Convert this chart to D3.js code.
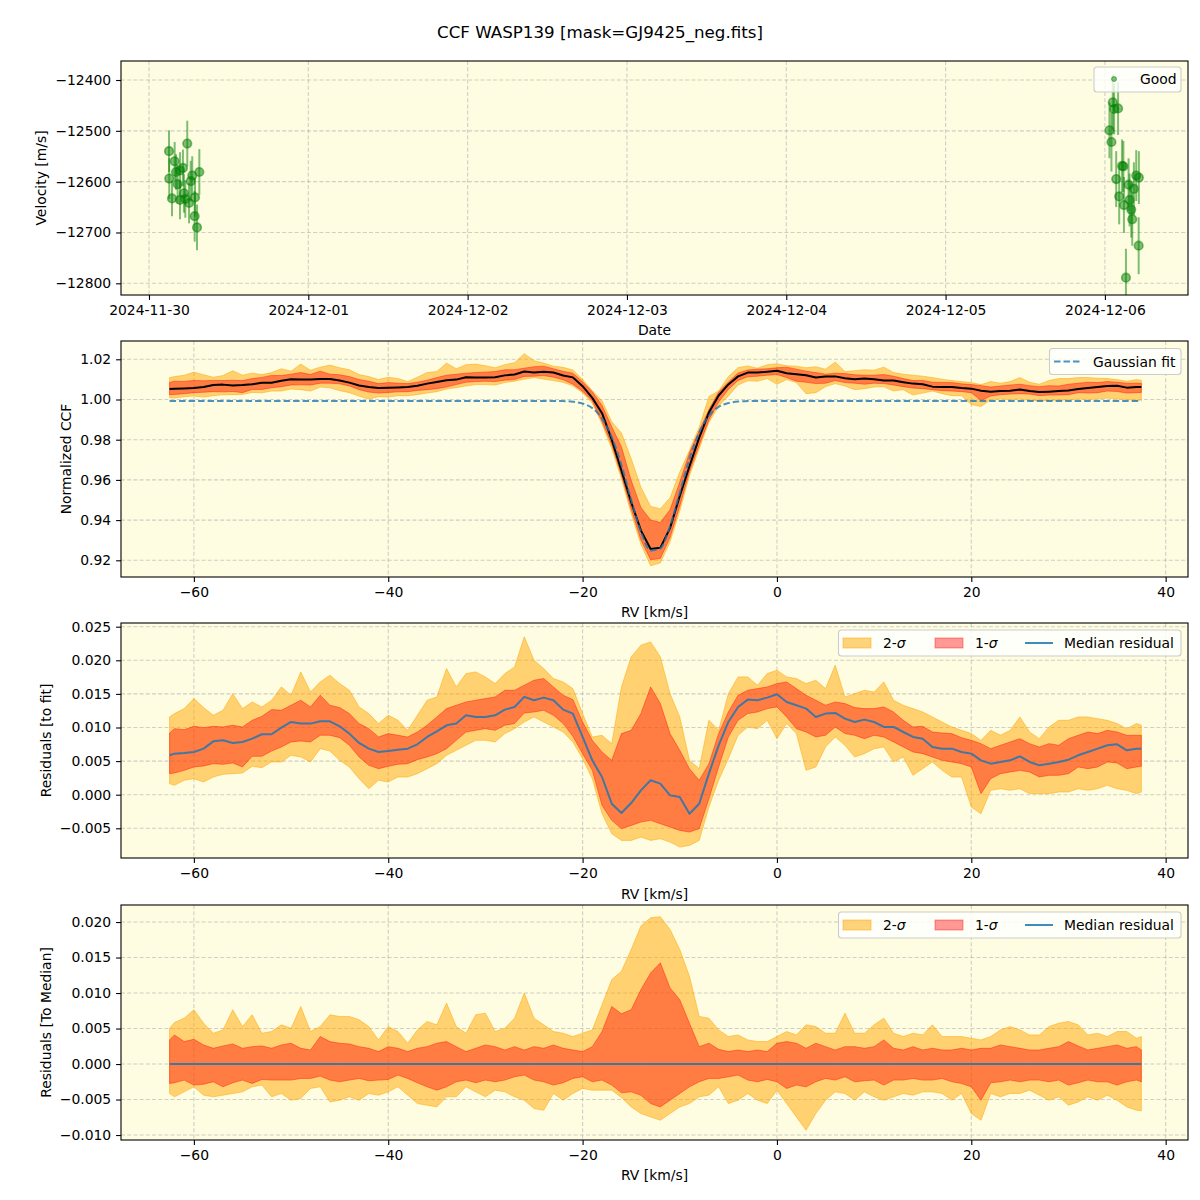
<!DOCTYPE html>
<html>
<head>
<meta charset="utf-8">
<script src="https://cdn.jsdelivr.net/npm/d3@7"></script>
<style>
body { margin: 0; background: #fff; }
</style>
</head>
<body>
<div class="ccf-plot"></div>
<script>
// ---- panel 1: RV time series (good points) ----
const goodTimes = ['2024-11-30T03:01','2024-11-30T03:03','2024-11-30T03:28','2024-11-30T03:52','2024-11-30T04:04',
  '2024-11-30T04:19','2024-11-30T04:40','2024-11-30T04:41','2024-11-30T05:07','2024-11-30T05:16','2024-11-30T05:28',
  '2024-11-30T05:46','2024-11-30T06:02','2024-11-30T06:17','2024-11-30T06:31','2024-11-30T06:56','2024-11-30T06:53',
  '2024-11-30T07:14','2024-11-30T07:35',
  '2024-12-06T01:11','2024-12-06T01:23','2024-12-06T01:59','2024-12-06T00:41','2024-12-06T00:59','2024-12-06T02:35',
  '2024-12-06T02:47','2024-12-06T01:42','2024-12-06T03:34','2024-12-06T04:43','2024-12-06T05:07','2024-12-06T04:22',
  '2024-12-06T02:09','2024-12-06T03:43','2024-12-06T02:52','2024-12-06T03:58','2024-12-06T04:07','2024-12-06T05:05',
  '2024-12-06T03:10'];
const goodVel = [-12540,-12594,-12633,-12560,-12581,-12605,-12636,-12578,-12573,-12623,-12634,-12525,-12642,-12599,
  -12588,-12631,-12668,-12690,-12581,
  -12444,-12457,-12456,-12499,-12522,-12569,-12570,-12595,-12606,-12588,-12592,-12614,-12629,-12636,-12646,-12655,
  -12674,-12726,-12789];
const goodErr = [41,40,35,38,35,38,38,36,36,38,37,45,40,40,38,38,50,45,45,
  55,50,52,55,58,52,50,55,52,50,52,52,55,52,55,55,52,56,57];

// ---- RV grid shared by the CCF panels: -62.5, -62 .. 37, 37.5 km/s ----
const rv = [-62.5, ...d3.range(-62, 38), 37.5];

// ---- panel 2: normalized CCF ----
const ccfMed = [1.0052,1.0054,1.0055,1.0057,1.0062,1.0072,1.0074,1.0070,1.0072,1.0076,
  1.0083,1.0083,1.0093,1.0101,1.0099,1.0099,1.0102,1.0102,1.0095,1.0084,
  1.0070,1.0062,1.0057,1.0058,1.0060,1.0062,1.0068,1.0079,1.0087,1.0096,
  1.0099,1.0111,1.0109,1.0109,1.0111,1.0120,1.0124,1.0139,1.0134,1.0138,
  1.0134,
  1.0119,1.0110,1.0066,1.0008,0.9932,0.9800,0.9646,0.9489,0.9349,0.9256,0.9262,0.9360,0.9520,0.9668,0.9810,0.9935,1.0020,1.0075,1.0115,1.0134,1.0134,
  1.0138,1.0143,1.0131,1.0126,1.0121,1.0109,1.0114,1.0115,1.0106,1.0101,
  1.0105,1.0101,1.0094,1.0094,1.0086,1.0079,1.0076,1.0064,1.0062,1.0062,
  1.0057,1.0054,1.0044,1.0039,1.0042,1.0044,1.0050,1.0042,1.0037,1.0039,
  1.0042,1.0045,1.0052,1.0057,1.0062,1.0067,1.0068,1.0059,1.0062,1.0062];
const ccf1Hi = [1.0085,1.0091,1.0090,1.0095,1.0093,1.0095,1.0094,1.0096,1.0094,1.0104,
  1.0110,1.0120,1.0119,1.0126,1.0134,1.0124,1.0141,1.0126,1.0123,1.0114,
  1.0099,1.0091,1.0079,1.0084,1.0081,1.0079,1.0086,1.0096,1.0109,1.0121,
  1.0126,1.0131,1.0134,1.0136,1.0139,1.0148,1.0148,1.0156,1.0163,1.0166,
  1.0153,
  1.0140,1.0131,1.0088,1.0038,0.9970,0.9864,0.9764,0.9597,0.9463,0.9401,0.9388,0.9452,0.9589,0.9735,0.9844,0.9950,1.0037,1.0087,1.0132,1.0147,1.0151,
  1.0153,1.0158,1.0161,1.0151,1.0141,1.0134,1.0126,1.0131,1.0129,1.0123,
  1.0121,1.0121,1.0124,1.0116,1.0104,1.0094,1.0095,1.0086,1.0085,1.0084,
  1.0078,1.0074,1.0069,1.0062,1.0067,1.0072,1.0076,1.0069,1.0064,1.0069,
  1.0067,1.0076,1.0081,1.0086,1.0084,1.0089,1.0086,1.0081,1.0081,1.0081];
const ccf1Lo = [1.0024,1.0025,1.0029,1.0034,1.0036,1.0039,1.0038,1.0040,1.0034,1.0050,
  1.0050,1.0058,1.0064,1.0072,1.0073,1.0072,1.0081,1.0081,1.0078,1.0067,
  1.0049,1.0037,1.0032,1.0035,1.0038,1.0039,1.0045,1.0049,1.0054,1.0062,
  1.0074,1.0086,1.0089,1.0091,1.0089,1.0096,1.0099,1.0115,1.0116,1.0119,
  1.0111,
  1.0098,1.0076,1.0041,0.9993,0.9890,0.9775,0.9622,0.9455,0.9301,0.9203,0.9209,0.9313,0.9470,0.9640,0.9772,0.9898,0.9987,1.0050,1.0095,1.0113,1.0116,
  1.0121,1.0124,1.0109,1.0091,1.0086,1.0079,1.0081,1.0094,1.0084,1.0081,
  1.0076,1.0081,1.0079,1.0072,1.0064,1.0057,1.0054,1.0049,1.0044,1.0042,
  1.0039,1.0034,0.9995,1.0017,1.0024,1.0027,1.0029,1.0027,1.0019,1.0022,
  1.0022,1.0024,1.0034,1.0032,1.0034,1.0042,1.0040,1.0032,1.0034,1.0035];
const ccf2Hi = [1.0109,1.0114,1.0121,1.0136,1.0123,1.0111,1.0119,1.0143,1.0121,1.0131,
  1.0124,1.0134,1.0153,1.0141,1.0176,1.0146,1.0161,1.0171,1.0158,1.0148,
  1.0124,1.0114,1.0099,1.0111,1.0104,1.0089,1.0111,1.0134,1.0139,1.0181,
  1.0153,1.0173,1.0176,1.0168,1.0158,1.0173,1.0183,1.0228,1.0193,1.0181,
  1.0166,
  1.0160,1.0147,1.0101,1.0043,0.9994,0.9889,0.9833,0.9706,0.9564,0.9468,0.9457,0.9511,0.9639,0.9747,0.9862,1.0015,1.0042,1.0114,1.0159,1.0167,1.0156,
  1.0173,1.0178,1.0168,1.0166,1.0158,1.0163,1.0151,1.0186,1.0139,1.0143,
  1.0148,1.0146,1.0161,1.0134,1.0126,1.0121,1.0116,1.0109,1.0101,1.0094,
  1.0089,1.0084,1.0074,1.0089,1.0081,1.0089,1.0109,1.0086,1.0076,1.0094,
  1.0104,1.0104,1.0109,1.0109,1.0106,1.0104,1.0099,1.0091,1.0099,1.0096];
const ccf2Lo = [1.0009,1.0007,1.0014,1.0017,1.0012,1.0019,1.0023,1.0024,1.0025,1.0035,
  1.0033,1.0042,1.0042,1.0052,1.0049,1.0042,1.0062,1.0058,1.0044,1.0034,
  1.0017,1.0002,1.0014,1.0012,1.0019,1.0019,1.0024,1.0032,1.0039,1.0052,
  1.0059,1.0067,1.0074,1.0074,1.0072,1.0084,1.0091,1.0101,1.0109,1.0101,
  1.0094,
  1.0085,1.0068,1.0034,0.9981,0.9878,0.9755,0.9605,0.9433,0.9279,0.9173,0.9187,0.9291,0.9445,0.9621,0.9755,0.9886,0.9967,1.0018,1.0072,1.0093,1.0091,
  1.0104,1.0076,1.0099,1.0084,1.0029,1.0034,1.0064,1.0079,1.0067,1.0049,
  1.0054,1.0062,1.0064,1.0042,1.0049,1.0022,1.0032,1.0042,1.0029,1.0019,
  1.0019,0.9975,0.9965,1.0000,1.0002,1.0000,1.0002,0.9995,0.9995,0.9995,
  0.9997,0.9997,1.0002,1.0000,1.0002,1.0007,1.0002,1.0000,0.9995,0.9997];
const gaussFit = [0.9993,0.9993,0.9993,0.9993,0.9993,0.9993,0.9993,0.9993,0.9993,0.9993,
  0.9993,0.9993,0.9993,0.9993,0.9993,0.9993,0.9993,0.9993,0.9993,0.9993,
  0.9993,0.9993,0.9993,0.9993,0.9993,0.9993,0.9993,0.9993,0.9993,0.9993,
  0.9993,0.9993,0.9993,0.9993,0.9993,0.9993,0.9993,0.9993,0.9993,0.9993,
  0.9993,
  0.9992,0.9989,0.9980,0.9957,0.9906,0.9813,0.9673,0.9501,0.9342,0.9249,0.9260,0.9370,0.9536,0.9704,0.9836,0.9919,0.9963,0.9982,0.9990,0.9992,0.9993,
  0.9993,0.9993,0.9993,0.9993,0.9993,0.9993,0.9993,0.9993,0.9993,0.9993,
  0.9993,0.9993,0.9993,0.9993,0.9993,0.9993,0.9993,0.9993,0.9993,0.9993,
  0.9993,0.9993,0.9993,0.9993,0.9993,0.9993,0.9993,0.9993,0.9993,0.9993,
  0.9993,0.9993,0.9993,0.9993,0.9993,0.9993,0.9993,0.9993,0.9993,0.9993];

// ---- panel 3: residuals to fit ----
const fitMed = [0.00586,0.00611,0.00621,0.00636,0.00685,0.00794,0.00809,0.0077,0.00785,0.00834,0.00899,0.00899,0.00998,0.01082,
  0.01058,0.01058,0.01092,0.01092,0.01018,0.00909,0.0077,0.00685,0.00636,0.0065,0.0067,0.00685,0.0075,0.00859,0.00943,0.01033,
  0.01058,0.01182,0.01157,0.01157,0.01182,0.01266,0.01306,0.01455,0.01405,0.01445,0.01405,0.01266,0.01207,0.00859,0.00511,0.00263,
  -0.00134,-0.00273,-0.00124,0.00065,0.00214,0.00164,-0.0001,-0.00035,-0.00283,-0.00134,0.00313,0.00735,0.01082,0.01306,0.01415,
  0.01405,0.01445,0.01495,0.0138,0.01331,0.01281,0.01157,0.01207,0.01216,0.01132,0.01082,0.01117,0.01082,0.01008,0.01008,0.00933,
  0.00859,0.00834,0.0071,0.00685,0.00685,0.00636,0.00611,0.00511,0.00462,0.00487,0.00511,0.00571,0.00487,0.00437,0.00462,0.00487,
  0.00521,0.00586,0.00636,0.00685,0.00735,0.0075,0.0066,0.00685,0.00685];
const fit1Hi = [0.00919,0.00983,0.00968,0.01018,0.00998,0.01018,0.01008,0.01033,0.01008,0.01107,0.01167,0.01266,0.01256,0.01331,
  0.01405,0.01306,0.0148,0.01331,0.01296,0.01207,0.01058,0.00983,0.00859,0.00909,0.00884,0.00859,0.00933,0.01033,0.01157,0.01281,
  0.01331,0.0138,0.01405,0.0143,0.01455,0.01554,0.01554,0.01629,0.01703,0.01728,0.01604,0.0148,0.01415,0.01082,0.00809,0.00636,
  0.00511,0.00909,0.00958,0.01207,0.01604,0.01356,0.00909,0.0066,0.00387,0.00214,0.00462,0.00909,0.01231,0.0148,0.01554,
  0.01579,0.01604,0.01653,0.01678,0.01579,0.0148,0.01405,0.01331,0.0138,0.01356,0.01296,0.01281,0.01281,0.01306,0.01231,0.01107,
  0.01008,0.01018,0.00933,0.00919,0.00909,0.00849,0.00809,0.0076,0.00685,0.00735,0.00785,0.00834,0.0076,0.0071,0.0076,0.00735,
  0.00834,0.00884,0.00933,0.00909,0.00958,0.00933,0.00884,0.00884,0.00884];
const fit1Lo = [0.00313,0.00323,0.00362,0.00412,0.00427,0.00462,0.00452,0.00472,0.00412,0.00571,0.00571,0.0065,0.0071,0.00785,
  0.00799,0.00785,0.00884,0.00884,0.00849,0.00735,0.00561,0.00437,0.00387,0.00422,0.00452,0.00462,0.00521,0.00561,0.00611,0.00685,
  0.00809,0.00933,0.00958,0.00983,0.00958,0.01033,0.01058,0.01216,0.01231,0.01256,0.01182,0.01058,0.00869,0.00611,0.00362,-0.00159,
  -0.00382,-0.00506,-0.00457,-0.00407,-0.00382,-0.00432,-0.00482,-0.00531,-0.00556,-0.00506,-0.0006,0.00412,0.00859,0.01107,0.01207,
  0.01231,0.01281,0.01306,0.01157,0.00983,0.00933,0.00859,0.00884,0.01008,0.00909,0.00884,0.00834,0.00884,0.00859,0.00785,0.0071,
  0.00636,0.00611,0.00561,0.00511,0.00487,0.00462,0.00412,0.00015,0.00238,0.00313,0.00338,0.00362,0.00338,0.00263,0.00288,0.00288,
  0.00313,0.00412,0.00387,0.00412,0.00487,0.00472,0.00387,0.00412,0.00422];
const fit2Hi = [0.01157,0.01207,0.01281,0.0143,0.01296,0.01182,0.01256,0.01504,0.01281,0.0138,0.01306,0.01405,0.01604,0.0148,
  0.01827,0.01529,0.01678,0.01778,0.01653,0.01554,0.01306,0.01207,0.01058,0.01182,0.01107,0.00958,0.01182,0.01405,0.01455,0.01877,
  0.01604,0.01802,0.01827,0.01753,0.01653,0.01802,0.01902,0.02349,0.02001,0.01877,0.01728,0.01678,0.01579,0.01207,0.00859,0.00884,
  0.0076,0.01604,0.02051,0.02224,0.02274,0.02051,0.01504,0.01157,0.00511,0.00387,0.01107,0.00958,0.01504,0.01753,0.01753,
  0.01629,0.01802,0.01852,0.01753,0.01728,0.01653,0.01703,0.01579,0.01927,0.01455,0.01504,0.01554,0.01529,0.01678,0.01405,0.01331,
  0.01281,0.01231,0.01157,0.01082,0.01008,0.00958,0.00909,0.00809,0.00958,0.00884,0.00958,0.01157,0.00933,0.00834,0.01008,0.01107,
  0.01107,0.01157,0.01157,0.01132,0.01107,0.01058,0.00983,0.01058,0.01033];
const fit2Lo = [0.00164,0.00139,0.00214,0.00238,0.00189,0.00263,0.00303,0.00313,0.00323,0.00422,0.00402,0.00487,0.00487,0.00586,
  0.00561,0.00487,0.00685,0.0065,0.00511,0.00412,0.00238,0.00089,0.00214,0.00189,0.00263,0.00263,0.00313,0.00387,0.00462,0.00586,
  0.0066,0.00735,0.00809,0.00809,0.00785,0.00909,0.00983,0.01082,0.01157,0.01082,0.01008,0.00933,0.00785,0.00536,0.00238,-0.00283,
  -0.00581,-0.0068,-0.0068,-0.00631,-0.0068,-0.00655,-0.00705,-0.0078,-0.00755,-0.0068,-0.00184,0.00214,0.00536,0.00884,0.01008,
  0.00983,0.01107,0.00834,0.01058,0.00909,0.00362,0.00412,0.0071,0.00859,0.00735,0.00561,0.00611,0.00685,0.0071,0.00487,0.00561,
  0.00288,0.00387,0.00487,0.00362,0.00263,0.00263,-0.00184,-0.00283,0.00065,0.00089,0.00065,0.00089,0.00015,0.00015,0.00015,0.0004,
  0.0004,0.00089,0.00065,0.00089,0.00139,0.00089,0.00065,0.00015,0.0004];

// ---- panel 4: residuals to median ----
const medLine = [0,0,0,0,0,0,0,0,0,0,0,0,0,0,0,0,0,0,0,0,0,0,0,0,0,0,0,0,0,0,0,0,0,0,0,0,0,0,0,0,0,0,0,0,0,0,0,0,0,0,0,
  0,0,0,0,0,0,0,0,0,0,0,0,0,0,0,0,0,0,0,0,0,0,0,0,0,0,0,0,0,0,0,0,0,0,0,0,0,0,0,0,0,0,0,0,0,0,0,0,0,0,0];
const med1Hi = [0.0034,0.0041,0.00316,0.00349,0.00269,0.00222,0.00255,0.00283,0.00222,0.00245,0.00255,0.00222,0.00269,0.00293,
  0.00222,0.00198,0.00387,0.00316,0.00293,0.00283,0.00245,0.00222,0.00175,0.00245,0.00222,0.00175,0.00222,0.00245,0.00293,0.00316,
  0.00245,0.00175,0.00222,0.00269,0.00245,0.00198,0.00245,0.00198,0.00245,0.00222,0.00269,0.00222,0.00198,0.00175,0.00245,0.00458,
  0.00811,0.00708,0.00764,0.01047,0.01283,0.01425,0.01071,0.00906,0.00575,0.00245,0.00293,0.00208,0.00175,0.00198,0.00175,
  0.00198,0.00175,0.00293,0.00316,0.00293,0.00222,0.00293,0.00245,0.00198,0.00245,0.00245,0.00222,0.00245,0.0034,0.00222,0.00198,
  0.00245,0.00198,0.00222,0.00198,0.00198,0.00222,0.00198,0.00222,0.00222,0.00269,0.00245,0.00222,0.00198,0.00198,0.00222,0.00245,
  0.00316,0.00255,0.00198,0.00222,0.00245,0.00269,0.00222,0.00245,0.00198];
const med1Lo = [-0.00274,-0.00264,-0.00226,-0.00297,-0.00283,-0.0025,-0.00321,-0.00264,-0.00226,-0.00274,-0.00217,-0.00226,-0.00226,-0.00226,
  -0.00203,-0.00203,-0.0017,-0.00226,-0.0025,-0.00226,-0.00203,-0.00236,-0.00226,-0.00217,-0.00156,-0.00203,-0.00264,-0.00321,-0.00368,-0.00321,
  -0.0025,-0.00226,-0.00264,-0.00226,-0.0025,-0.00226,-0.00179,-0.00156,-0.00226,-0.0025,-0.00297,-0.00264,-0.00203,-0.0018,-0.0025,-0.00226,
  -0.00297,-0.00406,-0.00392,-0.00439,-0.00557,-0.00604,-0.0051,-0.00415,-0.00321,-0.0025,-0.00203,-0.00203,-0.0018,-0.00156,-0.00226,
  -0.0025,-0.00217,-0.0025,-0.00344,-0.00297,-0.00321,-0.0025,-0.00203,-0.00226,-0.0018,-0.0025,-0.00236,-0.00226,-0.00297,-0.00226,-0.00226,
  -0.00203,-0.00226,-0.00226,-0.00203,-0.0025,-0.00274,-0.00321,-0.0051,-0.00264,-0.0025,-0.00226,-0.0025,-0.00226,-0.00226,-0.0025,-0.00226,
  -0.00297,-0.00264,-0.00226,-0.0025,-0.0025,-0.00297,-0.0025,-0.00226,-0.0025];
const med2Hi = [0.00505,0.00585,0.00646,0.00764,0.00575,0.00434,0.00481,0.00764,0.00528,0.00693,0.00434,0.00458,0.00552,0.00505,
  0.00811,0.00458,0.00528,0.00693,0.0067,0.0067,0.00623,0.00528,0.0034,0.00528,0.00458,0.00293,0.00481,0.00599,0.00552,0.00858,
  0.00528,0.00434,0.00693,0.00717,0.00458,0.00505,0.00646,0.01,0.00646,0.00552,0.00458,0.00434,0.00387,0.00434,0.00481,0.00835,
  0.01189,0.01307,0.01613,0.01943,0.02061,0.02075,0.01896,0.01613,0.01236,0.0067,0.00646,0.00481,0.00387,0.0041,0.0034,
  0.00316,0.00316,0.00387,0.00458,0.0041,0.00552,0.00528,0.00434,0.00434,0.00717,0.00434,0.00434,0.00552,0.00646,0.00434,0.00387,
  0.00434,0.0041,0.00552,0.00387,0.00387,0.00387,0.00363,0.0034,0.00387,0.00481,0.00528,0.00481,0.0041,0.0041,0.00528,0.00575,
  0.00599,0.00552,0.0041,0.00434,0.00387,0.00458,0.00458,0.00363,0.00387];
const med2Lo = [-0.00415,-0.00462,-0.00392,-0.00321,-0.00439,-0.00462,-0.00439,-0.00415,-0.00392,-0.00321,-0.00297,-0.00462,-0.00415,-0.0051,
  -0.00486,-0.00344,-0.00321,-0.00533,-0.0051,-0.00462,-0.0051,-0.00415,-0.00439,-0.00392,-0.00321,-0.00439,-0.00557,-0.0058,-0.00604,-0.00462,
  -0.00462,-0.00321,-0.00392,-0.00462,-0.00368,-0.00392,-0.00462,-0.0051,-0.00627,-0.00651,-0.00415,-0.0051,-0.00415,-0.00344,-0.00368,-0.00368,
  -0.00368,-0.00472,-0.00604,-0.00698,-0.00745,-0.00792,-0.00698,-0.00604,-0.00557,-0.00462,-0.00439,-0.00321,-0.00557,-0.0051,-0.00415,
  -0.0051,-0.00557,-0.00368,-0.00557,-0.00745,-0.00934,-0.00698,-0.0051,-0.00392,-0.00415,-0.0051,-0.00392,-0.00462,-0.0051,-0.00462,-0.00415,
  -0.00439,-0.00392,-0.00392,-0.00415,-0.0051,-0.00415,-0.00698,-0.00792,-0.00415,-0.00462,-0.00415,-0.00415,-0.00368,-0.00439,-0.0051,-0.00462,
  -0.0058,-0.00533,-0.00462,-0.0051,-0.00439,-0.0051,-0.00604,-0.00651,-0.0066];

// ---- ticks ----
const rvTicks = [-60, -40, -20, 0, 20, 40];
const velTicks = [-12800, -12700, -12600, -12500, -12400];
const ccfTicks = [0.92, 0.94, 0.96, 0.98, 1.00, 1.02];
const fitTicks = [-0.005, 0.000, 0.005, 0.010, 0.015, 0.020, 0.025];
const medTicks = [-0.010, -0.005, 0.000, 0.005, 0.010, 0.015, 0.020];

makeFigure();

function makeFigure() {
    const outerWidth = 1200;
    const outerHeight = 1200;
    const axLeft = 121, axRight = 1188;
    const bg = '#fefde1';
    const font = '"DejaVu Sans", sans-serif';
    const minus = s => s.replace('-', '\u2212');

    const svg = d3.select('.ccf-plot')
        .append('svg')
        .attr('width', outerWidth)
        .attr('height', outerHeight)
        .style('font-family', font);

    svg.append('rect').attr('width', outerWidth).attr('height', outerHeight).attr('fill', '#fff');

    svg.append('text')
        .attr('x', 600).attr('y', 38)
        .attr('text-anchor', 'middle')
        .attr('font-size', '16.7px')
        .text('CCF WASP139 [mask=GJ9425_neg.fits]');

    const xRV = d3.scaleLinear().domain([-67.5, 42.3]).range([axLeft, axRight]);
    const parseT = d3.utcParse('%Y-%m-%dT%H:%M');
    const xT = d3.scaleUtc()
        .domain([parseT('2024-11-29T19:47'), parseT('2024-12-06T12:31')])
        .range([axLeft, axRight]);

    function panel(top, bottom, yDomain, id) {
        const y = d3.scaleLinear().domain(yDomain).range([bottom, top]);
        const g = svg.append('g');
        g.append('rect')
            .attr('x', axLeft).attr('y', top)
            .attr('width', axRight - axLeft).attr('height', bottom - top)
            .attr('fill', bg);
        svg.append('clipPath').attr('id', id)
            .append('rect')
            .attr('x', axLeft).attr('y', top)
            .attr('width', axRight - axLeft).attr('height', bottom - top);
        const grid = g.append('g')
            .attr('stroke', '#b0b0b0').attr('stroke-opacity', 0.6)
            .attr('stroke-width', 1.1).attr('stroke-dasharray', '4,2.2');
        const data = g.append('g').attr('clip-path', `url(#${id})`);
        return {g, y, top, bottom, grid, data};
    }

    function gridlines(p, x, xTicks, yTicks) {
        p.grid.selectAll('.gx').data(xTicks).enter().append('line')
            .attr('x1', d => x(d)).attr('x2', d => x(d))
            .attr('y1', p.top).attr('y2', p.bottom);
        p.grid.selectAll('.gy').data(yTicks).enter().append('line')
            .attr('x1', axLeft).attr('x2', axRight)
            .attr('y1', d => p.y(d)).attr('y2', d => p.y(d));
    }

    function axes(p, x, xTicks, xFmt, yTicks, yFmt) {
        const styleAxis = g => {
            g.attr('font-family', font).attr('font-size', '13.9px');
            g.select('.domain').remove();
            g.selectAll('.tick line').attr('stroke', '#000').attr('stroke-width', 1.1);
            g.selectAll('.tick text').attr('fill', '#000');
        };
        p.g.append('g')
            .attr('transform', `translate(0, ${p.bottom})`)
            .call(d3.axisBottom(x).tickValues(xTicks).tickFormat(xFmt).tickSize(4.9).tickPadding(4.9))
            .call(styleAxis);
        p.g.append('g')
            .attr('transform', `translate(${axLeft}, 0)`)
            .call(d3.axisLeft(p.y).tickValues(yTicks).tickFormat(yFmt).tickSize(4.9).tickPadding(4.9))
            .call(styleAxis);
        p.g.append('rect')
            .attr('x', axLeft).attr('y', p.top)
            .attr('width', axRight - axLeft).attr('height', p.bottom - p.top)
            .attr('fill', 'none').attr('stroke', '#000').attr('stroke-width', 1.1);
    }

    function axisLabels(p, xText, xBase, yText, yBase) {
        p.g.append('text')
            .attr('x', (axLeft + axRight) / 2).attr('y', xBase)
            .attr('text-anchor', 'middle').attr('font-size', '13.9px')
            .text(xText);
        p.g.append('text')
            .attr('transform', `translate(${yBase}, ${(p.top + p.bottom) / 2}) rotate(-90)`)
            .attr('text-anchor', 'middle').attr('font-size', '13.9px')
            .text(yText);
    }

    function legendBox(g, x0, y0, w, h) {
        g.append('rect')
            .attr('x', x0).attr('y', y0).attr('width', w).attr('height', h)
            .attr('rx', 3)
            .attr('fill', '#fff').attr('fill-opacity', 0.8)
            .attr('stroke', '#cccccc').attr('stroke-width', 1.1);
    }

    function band(p, xs, lo, hi, color, opacity) {
        const area = d3.area()
            .x((d, i) => xRV(xs[i]))
            .y0((d, i) => p.y(lo[i]))
            .y1((d, i) => p.y(hi[i]));
        p.data.append('path')
            .datum(xs)
            .attr('fill', color).attr('fill-opacity', opacity)
            .attr('stroke', color).attr('stroke-opacity', opacity).attr('stroke-width', 1)
            .attr('d', area);
    }

    function curve(p, xs, ys, color, width, opacity, dash, smooth) {
        const line = d3.line()
            .curve(smooth ? d3.curveMonotoneX : d3.curveLinear)
            .x((d, i) => xRV(xs[i]))
            .y((d, i) => p.y(ys[i]));
        p.data.append('path')
            .datum(xs)
            .attr('fill', 'none')
            .attr('stroke', color).attr('stroke-width', width).attr('stroke-opacity', opacity)
            .attr('stroke-dasharray', dash || null)
            .attr('stroke-linejoin', 'round')
            .attr('d', line);
    }

    function sigmaLegend(p, y0) {
        const lg = p.g.append('g');
        legendBox(lg, 838.5, y0, 342.5, 26);
        const cy = y0 + 13;
        lg.append('rect').attr('x', 843).attr('y', cy - 5).attr('width', 28).attr('height', 10)
            .attr('fill', 'orange').attr('fill-opacity', 0.5)
            .attr('stroke', 'orange').attr('stroke-opacity', 0.5);
        lg.append('rect').attr('x', 935).attr('y', cy - 5).attr('width', 28).attr('height', 10)
            .attr('fill', 'red').attr('fill-opacity', 0.4)
            .attr('stroke', 'red').attr('stroke-opacity', 0.4);
        lg.append('line').attr('x1', 1025).attr('x2', 1053).attr('y1', cy).attr('y2', cy)
            .attr('stroke', '#1f77b4').attr('stroke-width', 2).attr('stroke-opacity', 0.85);
        const t1 = lg.append('text').attr('x', 883).attr('y', cy + 5).attr('font-size', '13.9px');
        t1.append('tspan').text('2-');
        t1.append('tspan').attr('font-style', 'italic').text('\u03c3');
        const t2 = lg.append('text').attr('x', 975).attr('y', cy + 5).attr('font-size', '13.9px');
        t2.append('tspan').text('1-');
        t2.append('tspan').attr('font-style', 'italic').text('\u03c3');
        lg.append('text').attr('x', 1064).attr('y', cy + 5).attr('font-size', '13.9px').text('Median residual');
    }

    // ---------- panel 1 ----------
    const p1 = panel(61, 295, [-12823, -12362.6], 'clip1');
    const dayTicks = d3.utcDay.range(parseT('2024-11-30T00:00'), parseT('2024-12-06T12:00'));
    gridlines(p1, xT, dayTicks, velTicks);
    const good = goodTimes.map((t, i) => ({t: parseT(t), v: goodVel[i], e: goodErr[i]}));
    p1.data.selectAll('.err').data(good).enter().append('line')
        .attr('x1', d => xT(d.t)).attr('x2', d => xT(d.t))
        .attr('y1', d => p1.y(d.v - d.e)).attr('y2', d => p1.y(d.v + d.e))
        .attr('stroke', 'green').attr('stroke-opacity', 0.5).attr('stroke-width', 2);
    p1.data.selectAll('.pt').data(good).enter().append('circle')
        .attr('cx', d => xT(d.t)).attr('cy', d => p1.y(d.v))
        .attr('r', 4.3)
        .attr('fill', 'green').attr('fill-opacity', 0.5)
        .attr('stroke', 'green').attr('stroke-opacity', 0.5).attr('stroke-width', 1.6);
    axes(p1, xT, dayTicks, d3.utcFormat('%Y-%m-%d'), velTicks, d => minus(d3.format('d')(d)));
    axisLabels(p1, 'Date', 335, 'Velocity [m/s]', 46);
    const lg1 = p1.g.append('g');
    legendBox(lg1, 1094, 67, 87, 25);
    lg1.append('circle').attr('cx', 1114).attr('cy', 79).attr('r', 2.5)
        .attr('fill', 'green').attr('fill-opacity', 0.5)
        .attr('stroke', 'green').attr('stroke-opacity', 0.5);
    lg1.append('text').attr('x', 1140).attr('y', 84).attr('font-size', '13.9px').text('Good');

    // ---------- panel 2 ----------
    const p2 = panel(341, 577, [0.9117, 1.0291], 'clip2');
    gridlines(p2, xRV, rvTicks, ccfTicks);
    band(p2, rv, ccf2Lo, ccf2Hi, 'orange', 0.5);
    band(p2, rv, ccf1Lo, ccf1Hi, 'red', 0.4);
    curve(p2, rv, ccfMed, '#000', 2, 1);
    curve(p2, rv, gaussFit, '#1f77b4', 2, 0.8, '6.5,3', true);
    axes(p2, xRV, rvTicks, d => minus(String(d)), ccfTicks, d => d3.format('.2f')(d));
    axisLabels(p2, 'RV [km/s]', 617, 'Normalized CCF', 71);
    const lg2 = p2.g.append('g');
    legendBox(lg2, 1049.5, 348.5, 131.5, 26);
    lg2.append('line').attr('x1', 1054).attr('x2', 1082).attr('y1', 361.5).attr('y2', 361.5)
        .attr('stroke', '#1f77b4').attr('stroke-opacity', 0.8).attr('stroke-width', 2)
        .attr('stroke-dasharray', '6.5,3');
    lg2.append('text').attr('x', 1093).attr('y', 366.5).attr('font-size', '13.9px').text('Gaussian fit');

    // ---------- panel 3 ----------
    const p3 = panel(623, 858, [-0.00942, 0.02555], 'clip3');
    gridlines(p3, xRV, rvTicks, fitTicks);
    band(p3, rv, fit2Lo, fit2Hi, 'orange', 0.5);
    band(p3, rv, fit1Lo, fit1Hi, 'red', 0.4);
    curve(p3, rv, fitMed, '#1f77b4', 2, 0.85);
    axes(p3, xRV, rvTicks, d => minus(String(d)), fitTicks, d => minus(d3.format('.3f')(d)));
    axisLabels(p3, 'RV [km/s]', 899, 'Residuals [to fit]', 51);
    sigmaLegend(p3, 630);

    // ---------- panel 4 ----------
    const p4 = panel(905, 1140, [-0.0107, 0.0224], 'clip4');
    gridlines(p4, xRV, rvTicks, medTicks);
    band(p4, rv, med2Lo, med2Hi, 'orange', 0.5);
    band(p4, rv, med1Lo, med1Hi, 'red', 0.4);
    curve(p4, rv, medLine, '#1f77b4', 2, 0.85);
    axes(p4, xRV, rvTicks, d => minus(String(d)), medTicks, d => minus(d3.format('.3f')(d)));
    axisLabels(p4, 'RV [km/s]', 1180, 'Residuals [To Median]', 51);
    sigmaLegend(p4, 912);
}
</script>
</body>
</html>
